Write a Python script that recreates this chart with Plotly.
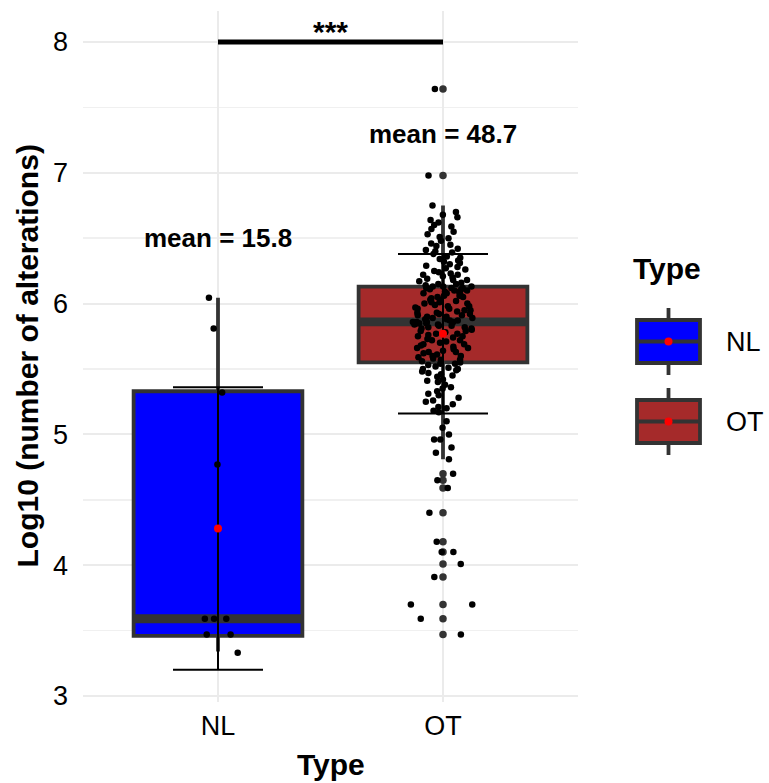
import plotly.graph_objects as go

# ---------------- data ----------------
categories = ['NL', 'OT']
cat_pos = [1, 2]
fill_colors = ['#0000FF', '#A52A2A']

# box statistics (log10 scale)
q1 = [3.46, 5.55]
median = [3.59, 5.86]
q3 = [5.33, 6.13]
lower_whisker = [3.34, 4.81]
upper_whisker = [6.045, 6.75]

# mean +/- sd
means = [4.28, 5.77]
sds = [1.08, 0.61]
mean_labels = ['mean = 15.8', 'mean = 48.7']
mean_label_y = [6.50, 7.30]

# individual samples (jittered points)
nl_values = [6.045, 5.81, 5.32, 4.77, 3.59, 3.59, 3.59, 3.47, 3.47, 3.33]
ot_values_core = [
    6.75, 6.70, 6.68, 6.66, 6.64, 6.62, 6.60, 6.59, 6.57, 6.55, 6.53, 6.51,
    6.50, 6.48, 6.46, 6.45, 6.44, 6.42, 6.41, 6.40, 6.39, 6.38, 6.36, 6.35,
    6.34, 6.33, 6.32, 6.31, 6.30, 6.29, 6.28, 6.27, 6.26, 6.25, 6.24, 6.23,
    6.22, 6.22, 6.21, 6.20, 6.19, 6.18, 6.18, 6.17, 6.16, 6.15, 6.15, 6.14,
    6.13, 6.13, 6.13, 6.12, 6.12, 6.12, 6.11, 6.11, 6.10, 6.10, 6.09, 6.09,
    6.08, 6.08, 6.07, 6.06, 6.06, 6.05, 6.05, 6.04, 6.03, 6.03, 6.02, 6.01,
    6.01, 6.00, 6.00, 5.99, 5.98, 5.98, 5.97, 5.96, 5.96, 5.95, 5.95, 5.94,
    5.93, 5.93, 5.92, 5.92, 5.91, 5.91, 5.90, 5.90, 5.89, 5.89, 5.88, 5.88,
    5.87, 5.87, 5.86, 5.86, 5.86, 5.86, 5.85, 5.85, 5.85, 5.84, 5.84, 5.83,
    5.83, 5.82, 5.82, 5.81, 5.81, 5.80, 5.79, 5.79, 5.78, 5.77, 5.77, 5.76,
    5.75, 5.75, 5.74, 5.73, 5.72, 5.72, 5.71, 5.70, 5.69, 5.69, 5.68, 5.67,
    5.66, 5.66, 5.65, 5.64, 5.63, 5.63, 5.62, 5.61, 5.60, 5.60, 5.59, 5.58,
    5.57, 5.57, 5.56, 5.55,
    5.54, 5.54, 5.53, 5.52, 5.51, 5.50, 5.50, 5.49, 5.48, 5.47, 5.46, 5.45,
    5.44, 5.42, 5.41, 5.40, 5.38, 5.36, 5.35, 5.33, 5.31, 5.30, 5.28, 5.26,
    5.25, 5.23, 5.21, 5.20, 5.18, 5.17,
    5.10, 5.05, 5.00, 4.96, 4.96, 4.90, 4.86, 4.81,
]
ot_values_tail = [7.64, 6.98, 4.70, 4.65, 4.59, 4.40, 4.18, 4.10, 4.10, 4.01,
                  3.91, 3.70, 3.70, 3.59, 3.47]
# box-plot outliers (drawn at the category centre)
ot_outliers = [7.64, 6.98, 4.70, 4.65, 4.59, 4.40, 4.18, 4.10, 4.01, 3.91,
               3.70, 3.59, 3.47]

sig_y = 8.0
sig_text = '***'
y_ticks = [3, 4, 5, 6, 7, 8]
y_range = [2.954, 8.237]
x_range = [0.4, 2.6]

# ---------------- layout geometry ----------------
W, H = 769, 783
PL, PT, PR, PB = 83, 11, 578, 702          # plot area in page pixels
L, T = PL, PT
PW, PH = PR - PL, PB - PT
R, B = W - L - PW, H - T - PH


def px_x(px):
    return (px - PL) / PW


def px_y(py):
    return (PB - py) / PH


FONT = 'Liberation Sans, Arial, Helvetica, sans-serif'
DARK = '#333333'
BOX_W = 0.75
MED_HALF = 0.034

fig = go.Figure()

# boxes
for i in range(2):
    fig.add_trace(go.Box(
        x=[cat_pos[i]], q1=[q1[i]], median=[median[i]], q3=[q3[i]],
        lowerfence=[lower_whisker[i]], upperfence=[upper_whisker[i]],
        width=BOX_W, fillcolor=fill_colors[i],
        line=dict(color=DARK, width=3.8), whiskerwidth=0,
        boxpoints=False, hoverinfo='skip', showlegend=False))

# thick median bands
for i in range(2):
    m = median[i]
    fig.add_trace(go.Box(
        x=[cat_pos[i]], q1=[m - MED_HALF], median=[m], q3=[m + MED_HALF],
        lowerfence=[m - MED_HALF], upperfence=[m + MED_HALF],
        width=BOX_W, fillcolor=DARK, line=dict(color=DARK, width=0),
        whiskerwidth=0, boxpoints=False, hoverinfo='skip', showlegend=False))

# outliers
fig.add_trace(go.Box(
    x=[cat_pos[1]] * len(ot_outliers), y=ot_outliers, width=BOX_W,
    boxpoints='all', jitter=0, pointpos=0,
    marker=dict(color=DARK, size=7.5),
    fillcolor='rgba(0,0,0,0)', line=dict(color='rgba(0,0,0,0)', width=0),
    hoverinfo='skip', showlegend=False))

# jittered samples
for pos, vals, jit in zip([cat_pos[0], cat_pos[1], cat_pos[1]],
                          [nl_values, ot_values_core, ot_values_tail],
                          [0.45, 0.36, 0.45]):
    fig.add_trace(go.Box(
        x=[pos] * len(vals), y=vals, width=BOX_W,
        boxpoints='all', jitter=jit, pointpos=0,
        marker=dict(color='black', size=6.5),
        fillcolor='rgba(0,0,0,0)', line=dict(color='rgba(0,0,0,0)', width=0),
        hoverinfo='skip', showlegend=False))

# error bars (mean +/- sd)
fig.add_trace(go.Scatter(
    x=cat_pos, y=means, mode='markers',
    marker=dict(size=1, color='rgba(0,0,0,0)'),
    error_y=dict(type='data', array=sds, color='black', thickness=2, width=45),
    hoverinfo='skip', showlegend=False))

# mean points
fig.add_trace(go.Scatter(
    x=cat_pos, y=means, mode='markers',
    marker=dict(size=8, color='red'), hoverinfo='skip', showlegend=False))

# significance bar
fig.add_trace(go.Scatter(
    x=cat_pos, y=[sig_y, sig_y], mode='lines',
    line=dict(color='black', width=5), hoverinfo='skip', showlegend=False))

annotations = []
annotations.append(dict(x=sum(cat_pos) / 2, y=px_y(31), xref='x', yref='paper',
                        text='<b>%s</b>' % sig_text, showarrow=False,
                        xanchor='center', yanchor='middle',
                        font=dict(size=30, color='black', family=FONT)))
for pos, lab, ly in zip(cat_pos, mean_labels, mean_label_y):
    annotations.append(dict(x=pos, y=ly, xref='x', yref='y', text='<b>%s</b>' % lab,
                            showarrow=False, xanchor='center', yanchor='middle',
                            font=dict(size=26, color='black', family=FONT)))

# axis titles
annotations.append(dict(x=px_x(27), y=0.5, xref='paper', yref='paper',
                        text='<b>Log10 (number of alterations)</b>', textangle=-90,
                        showarrow=False, xanchor='center', yanchor='middle',
                        font=dict(size=30, color='black', family=FONT)))
annotations.append(dict(x=0.5, y=px_y(765), xref='paper', yref='paper',
                        text='<b>Type</b>', showarrow=False,
                        xanchor='center', yanchor='middle',
                        font=dict(size=30, color='black', family=FONT)))

# manual legend (ggplot style)
annotations.append(dict(x=px_x(631), y=px_y(268), xref='paper', yref='paper',
                        text='<b>Type</b>', showarrow=False,
                        xanchor='left', yanchor='middle',
                        font=dict(size=30, color='black', family=FONT)))
shapes = []
key_tops = [320, 400]
key_label_y = [342, 422]
for i in range(2):
    top = key_tops[i]
    bot = top + 43
    mid = (top + bot) / 2
    x0, x1 = 637, 700
    xc = (x0 + x1) / 2
    shapes.append(dict(type='line', xref='paper', yref='paper',
                       x0=px_x(xc), x1=px_x(xc), y0=px_y(top - 12), y1=px_y(bot + 12),
                       line=dict(color=DARK, width=3.8)))
    shapes.append(dict(type='rect', xref='paper', yref='paper',
                       x0=px_x(x0), x1=px_x(x1), y0=px_y(top), y1=px_y(bot),
                       fillcolor=fill_colors[i], line=dict(color=DARK, width=3.8)))
    shapes.append(dict(type='line', xref='paper', yref='paper',
                       x0=px_x(x0), x1=px_x(x1), y0=px_y(mid), y1=px_y(mid),
                       line=dict(color=DARK, width=4)))
    shapes.append(dict(type='circle', xref='paper', yref='paper',
                       x0=px_x(xc - 4), x1=px_x(xc + 4), y0=px_y(mid - 4), y1=px_y(mid + 4),
                       fillcolor='red', line=dict(width=0)))
    annotations.append(dict(x=px_x(724), y=px_y(key_label_y[i]), xref='paper', yref='paper',
                            text=categories[i], showarrow=False,
                            xanchor='left', yanchor='middle',
                            font=dict(size=27, color='black', family=FONT)))

fig.update_layout(
    width=W, height=H,
    margin=dict(l=L, r=R, t=T, b=B, autoexpand=False),
    paper_bgcolor='white', plot_bgcolor='white',
    font=dict(family=FONT, color='black'),
    boxmode='overlay',
    showlegend=False,
    hovermode=False,
    annotations=annotations,
    shapes=shapes,
    xaxis=dict(range=x_range, tickvals=cat_pos, ticktext=categories,
               showgrid=True, gridcolor='#EBEBEB', gridwidth=2,
               zeroline=False, showline=False, ticks='', automargin=False,
               ticklabelstandoff=5,
               tickfont=dict(size=27, color='black', family=FONT)),
    yaxis=dict(range=y_range, tickvals=y_ticks,
               showgrid=True, gridcolor='#EBEBEB', gridwidth=2,
               minor=dict(dtick=0.5, tick0=3, showgrid=True,
                          gridcolor='#F0F0F0', gridwidth=1.5),
               zeroline=False, showline=False, ticks='', automargin=False,
               ticklabelstandoff=14,
               tickfont=dict(size=27, color='black', family=FONT)),
)

# remove the browser's default page margin so the figure fills the window
fig.write_html('out.html',
               config={'displayModeBar': False, 'staticPlot': True},
               post_script="document.body.style.margin='0';"
                           "document.body.style.overflow='hidden';")
